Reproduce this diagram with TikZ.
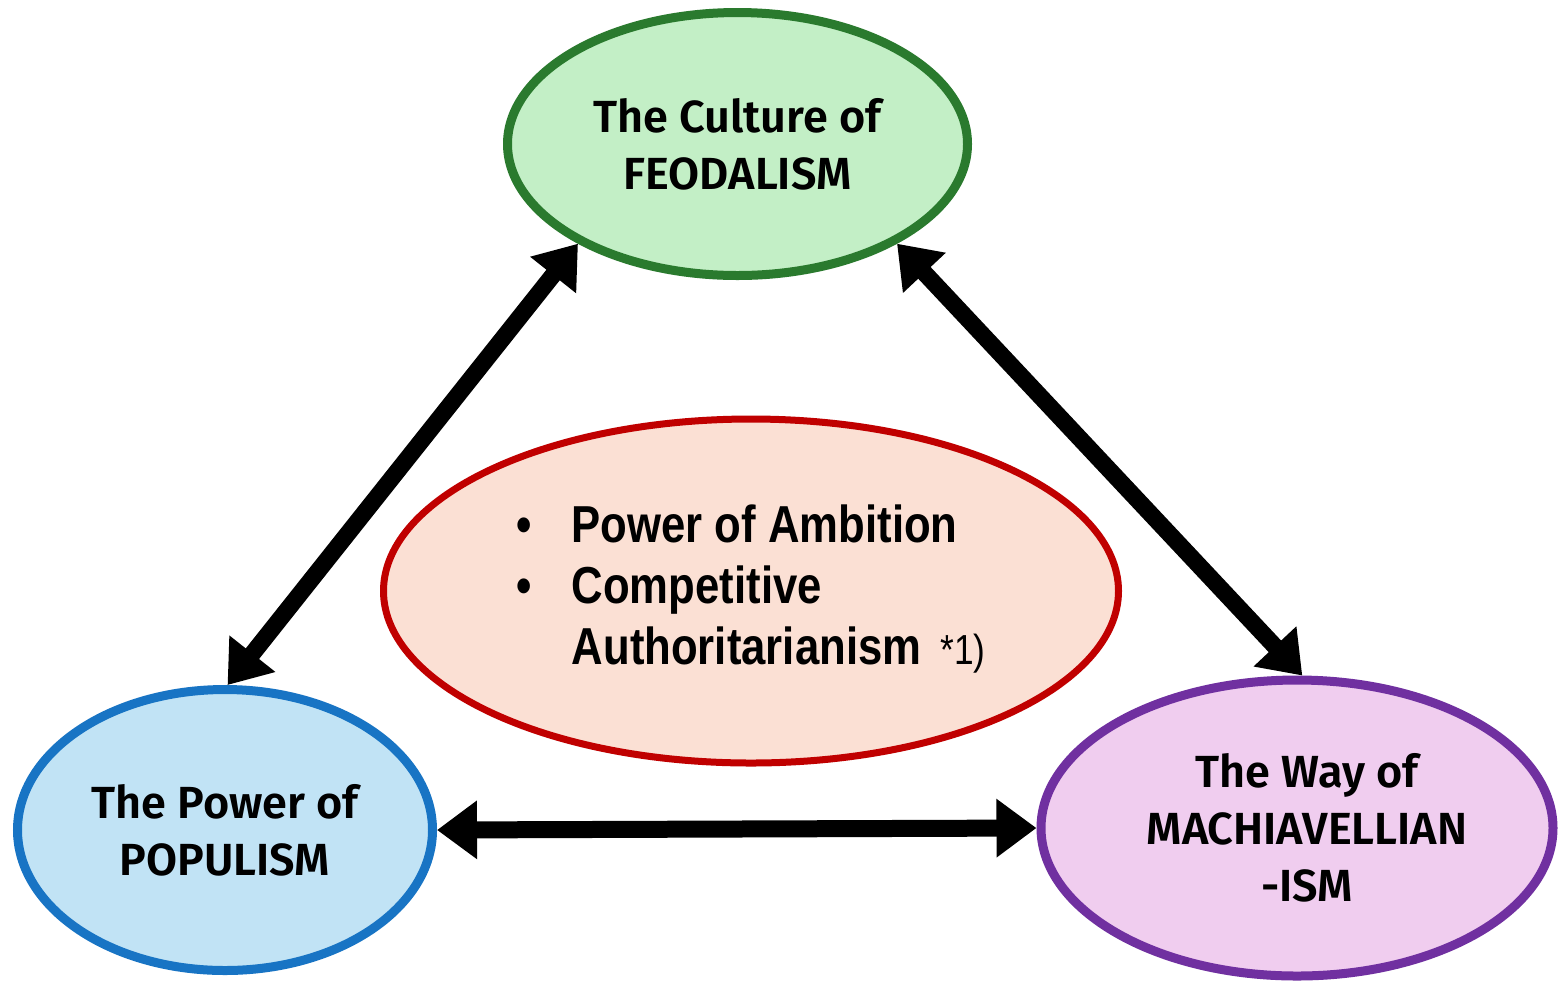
\documentclass[tikz,border=0pt]{standalone}
\usepackage{fontspec}
\setmainfont{Fira Sans}[BoldFont={* SemiBold}]
\newfontfamily\narrowfont{Liberation Sans}[FakeStretch=0.84]
\usetikzlibrary{shapes.geometric,arrows.meta}
\definecolor{gfill}{HTML}{C3EFC6}
\definecolor{gline}{HTML}{2A7A2E}
\definecolor{rfill}{HTML}{FBE0D4}
\definecolor{rline}{HTML}{C00000}
\definecolor{bfill}{HTML}{C1E3F5}
\definecolor{bline}{HTML}{1874C4}
\definecolor{pfill}{HTML}{F0CDEF}
\definecolor{pline}{HTML}{7030A0}
\tikzset{
  bubble/.style={ellipse, line width=4.5pt, inner sep=0pt, align=center,
    font=\fontsize{22.5}{28.5}\selectfont\bfseries},
  link/.style={line width=8.5pt, {Triangle[length=20pt,width=28pt]}-{Triangle[length=20pt,width=28pt]}}
}
\begin{document}
\begin{tikzpicture}[x=0.5pt,y=-0.5pt]
\useasboundingbox[fill=white] (0,0) rectangle (1558,982);
\node[bubble, draw=gline, fill=gfill, minimum width=230pt, minimum height=131.5pt] (green) at (737.5,144) {The Culture of\\FEODALISM};
\node[bubble, draw=rline, fill=rfill, line width=3.5pt, minimum width=367.5pt, minimum height=172pt,
  font=\narrowfont\fontsize{26}{30}\selectfont\bfseries] (red) at (751,591)
  {\begin{tabular}{@{}l@{\hspace{20pt}}l@{}}
   \textbullet & Power of Ambition\\[0.5pt]
   \textbullet & Competitive\\[0.5pt]
   & Authoritarianism {\mdseries\fontsize{21}{24}\selectfont\,*1)}
   \end{tabular}};
\node[bubble, draw=bline, fill=bfill, minimum width=207.5pt, minimum height=140.5pt] (blue) at (225,830) {The Power of\\POPULISM};
\node[bubble, draw=pline, fill=pfill, minimum width=256pt, minimum height=148pt] (purple) at (1297,828) {\hspace{10pt}The Way of\\\hspace{10pt}MACHIAVELLIAN\\\hspace{10pt}-ISM};
\draw[link] (green.212) -- (blue.89);
\draw[link] (green.328) -- (purple.88);
\draw[link] (blue.east) -- (purple.west);
\end{tikzpicture}
\end{document}
